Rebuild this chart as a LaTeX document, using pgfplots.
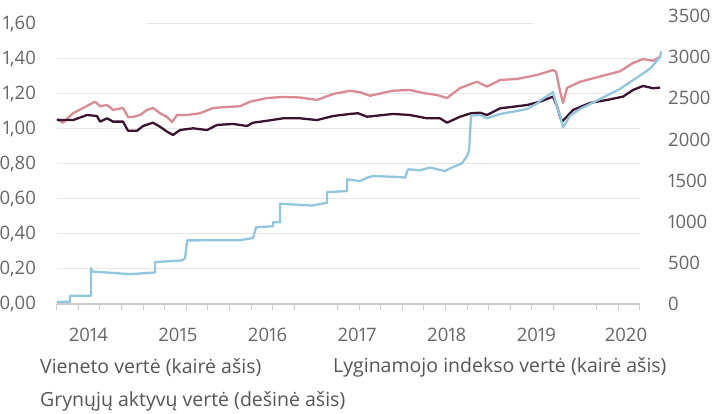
\documentclass[border=0pt]{standalone}
\usepackage{pgfplots}
\pgfplotsset{compat=1.18}
\usepackage{fontspec}
\setmainfont{Open Sans}[Numbers=Proportional]
\definecolor{cpink}{HTML}{D98A92}
\definecolor{cdark}{HTML}{3B1230}
\definecolor{cblue}{HTML}{92C5DE}
\definecolor{cgrid}{HTML}{E6E6E6}
\definecolor{caxis}{HTML}{CCCCCC}
\definecolor{ctext}{HTML}{666666}
\definecolor{clegend}{HTML}{555555}

\pgfplotstableread{
x y
2013.650 1.057
2013.717 1.036
2013.829 1.090
2013.941 1.120
2014.075 1.156
2014.131 1.130
2014.209 1.137
2014.276 1.109
2014.387 1.120
2014.443 1.069
2014.499 1.069
2014.577 1.080
2014.655 1.109
2014.722 1.120
2014.800 1.090
2014.878 1.069
2014.934 1.040
2014.990 1.080
2015.102 1.080
2015.247 1.090
2015.392 1.120
2015.548 1.126
2015.693 1.130
2015.805 1.156
2015.994 1.177
2016.173 1.183
2016.363 1.180
2016.552 1.166
2016.731 1.200
2016.921 1.219
2017.032 1.210
2017.144 1.190
2017.401 1.219
2017.590 1.223
2017.736 1.206
2017.892 1.194
2018.003 1.177
2018.148 1.234
2018.338 1.270
2018.450 1.242
2018.595 1.280
2018.785 1.286
2019.008 1.309
2019.186 1.337
2019.220 1.326
2019.265 1.215
2019.298 1.149
2019.343 1.235
2019.488 1.270
2019.711 1.300
2019.934 1.330
2020.079 1.377
2020.191 1.400
2020.302 1.390
2020.381 1.413
}\pinkdata

\pgfplotstableread{
x y
2013.650 1.051
2013.829 1.051
2013.986 1.080
2014.097 1.074
2014.131 1.042
2014.209 1.061
2014.276 1.042
2014.387 1.042
2014.443 0.990
2014.544 0.990
2014.611 1.017
2014.722 1.036
2014.800 1.013
2014.878 0.985
2014.945 0.966
2015.023 0.994
2015.169 1.004
2015.325 0.994
2015.436 1.023
2015.615 1.029
2015.771 1.017
2015.838 1.036
2015.994 1.047
2016.173 1.061
2016.363 1.061
2016.552 1.051
2016.731 1.074
2016.921 1.086
2017.010 1.090
2017.111 1.070
2017.401 1.086
2017.590 1.080
2017.780 1.061
2017.925 1.061
2018.003 1.036
2018.148 1.070
2018.271 1.090
2018.372 1.093
2018.450 1.080
2018.595 1.118
2018.740 1.127
2018.896 1.137
2019.041 1.156
2019.186 1.185
2019.231 1.130
2019.265 1.070
2019.287 1.042
2019.376 1.090
2019.410 1.109
2019.599 1.149
2019.789 1.166
2019.968 1.185
2020.079 1.223
2020.191 1.246
2020.302 1.233
2020.381 1.236
}\darkdata

\pgfplotstableread{
x y
2013.650 28
2013.796 28
2013.796 101
2014.030 101
2014.030 436
2014.040 395
2014.465 363
2014.744 383
2014.744 509
2015.046 530
2015.080 558
2015.102 773
2015.693 775
2015.838 802
2015.872 932
2016.061 945
2016.061 993
2016.140 993
2016.140 1218
2016.497 1197
2016.664 1230
2016.664 1360
2016.887 1372
2016.887 1515
2017.032 1494
2017.111 1535
2017.177 1555
2017.479 1543
2017.535 1535
2017.568 1637
2017.702 1625
2017.814 1658
2017.981 1616
2018.070 1665
2018.171 1710
2018.227 1800
2018.249 1861
2018.271 2288
2018.372 2297
2018.450 2256
2018.595 2309
2018.740 2337
2018.896 2370
2019.019 2443
2019.041 2471
2019.186 2574
2019.231 2400
2019.265 2288
2019.298 2146
2019.376 2288
2019.488 2370
2019.711 2492
2019.934 2614
2020.157 2777
2020.269 2859
2020.381 3001
2020.392 3070
}\bluedata

\begin{document}
\begin{tikzpicture}
\pgfplotsset{
  every axis/.append style={
    scale only axis, width=583.3pt, height=288pt,
    xmin=2013.647, xmax=2020.157,
    clip=false,
    /pgf/number format/assume math mode=true,
    /pgf/number format/1000 sep={},
    tick label style={font=\fontsize{18.5}{22}\selectfont, text=ctext, inner sep=0pt},
  },
}
\begin{axis}[
  ymin=0, ymax=1.6457,
  axis x line*=bottom, axis y line*=left,
  x axis line style={-, draw=caxis, line width=1.6pt},
  y axis line style={draw=none},
  xtick={2013.647,2013.888,2014.129,2014.370,2014.611,2014.852,2015.093,2015.334,2015.576,2015.817,2016.058,2016.299,2016.781,2017.022,2017.263,2017.504,2017.745,2017.986,2018.227,2018.468,2018.710,2018.951,2019.192,2019.674,2019.915,2020.156},
  xticklabels={},
  tick align=outside,
  xtick style={draw=caxis, line width=1pt},
  major tick length=6pt,
  extra x ticks={2014,2015,2016,2017,2018,2019,2020},
  extra x tick labels={2014,2015,2016,2017,2018,2019,2020},
  extra x tick style={major tick length=0pt, xticklabel style={anchor=north, yshift=-23.5pt}},
  ytick={0,0.2,0.4,0.6,0.8,1.0,1.2,1.4},
  extra y ticks={1.6},
  extra y tick style={grid=none},
  ymajorgrids=true,
  grid style={draw=cgrid, line width=1pt},
  ytick style={draw=none},
  yticklabel style={anchor=east, xshift=-14.7pt,
    /pgf/number format/.cd, fixed, fixed zerofill, precision=2, use comma},
]
\draw[cgrid, line width=1pt] (axis cs:2014.655,1.6) -- (axis cs:2018.963,1.6);
\addplot[cpink, line width=2.3pt, line join=round] table {\pinkdata};
\addplot[cdark, line width=2.3pt, line join=round] table {\darkdata};
\end{axis}
\begin{axis}[
  ymin=0, ymax=3500,
  axis x line=none, axis y line*=right,
  y axis line style={draw=none},
  ytick={0,500,...,3500},
  ytick style={draw=none},
  yticklabel style={anchor=west, xshift=28pt},
]
\addplot[cblue, line width=2.3pt, line join=round] table {\bluedata};
\end{axis}
\begin{scope}[every node/.style={anchor=west, inner sep=0pt, text=clegend, font=\fontsize{19.5}{22}\selectfont}]
\node at (-16.7pt,-63.7pt) {Vieneto vertė (kairė ašis)};
\node at (276.3pt,-63.7pt) {Lyginamojo indekso vertė (kairė ašis)};
\node at (-16.7pt,-97pt) {Grynųjų aktyvų vertė (dešinė ašis)};
\end{scope}
\pgfresetboundingbox
\path[use as bounding box] (-56.7pt,-110pt) rectangle (656.3pt,304pt);
\end{tikzpicture}
\end{document}
